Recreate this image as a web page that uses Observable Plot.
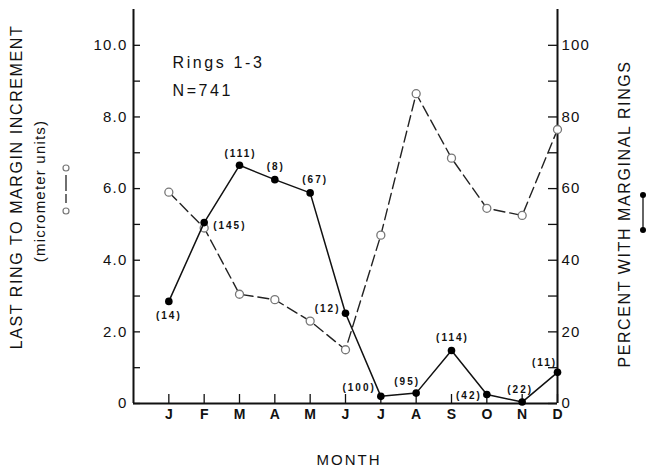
<!DOCTYPE html>
<html><head><meta charset="utf-8">
<script src="https://cdn.jsdelivr.net/npm/d3@7"></script>
<script src="https://cdn.jsdelivr.net/npm/@observablehq/plot@0.6"></script>
<style>
html,body{margin:0;padding:0;background:#fff;}
#chart svg{display:block;}
</style></head><body><div id="chart"></div>
<script>
// ---- data ----
const months = ["J","F","M","A","M","J","J","A","S","O","N","D"];
const increment = [5.9, 4.9, 3.05, 2.9, 2.3, 1.5, 4.7, 8.65, 6.85, 5.45, 5.25, 7.65]; // micrometer units (left)
const percentMarginal = [28.5, 50.5, 66.5, 62.5, 58.8, 25.2, 2.0, 2.9, 14.8, 2.5, 0.4, 8.7]; // % (right)
const sampleSize = [14, 145, 111, 8, 67, 12, 100, 95, 114, 42, 22, 11];
const leftTicks = [0, 2, 4, 6, 8, 10];
const minorTicks = [1, 3, 5, 7, 9];
const rightTicks = [0, 20, 40, 60, 80, 100];
const notes = ["Rings 1-3", "N=741"];

// ---- layout / style ----
const W = 647, H = 469;
const mL = 133, mR = 90, mT = 9, mB = 66;
const plotW = W - mL - mR, plotH = H - mT - mB;
const pctScale = 10; // right axis 100 == left axis 10.0
const FONT = "'Liberation Sans', Arial, Helvetica, sans-serif";
const labelPlace = [
  {dx: 0, dy: 14, a: "middle"},
  {dx: 9, dy: 3, a: "start"},
  {dx: 1, dy: -12, a: "middle"},
  {dx: 1, dy: -13, a: "middle"},
  {dx: 5, dy: -13, a: "middle"},
  {dx: -5, dy: -4, a: "end"},
  {dx: -5, dy: -9, a: "end"},
  {dx: -9, dy: -11, a: "middle"},
  {dx: 1, dy: -13, a: "middle"},
  {dx: -5, dy: 1, a: "end"},
  {dx: -2, dy: -12, a: "middle"},
  {dx: -13, dy: -10, a: "middle"}
];
const notePlace = [{dx: 39, dy: 53}, {dx: 39, dy: 81}];

const idx = d3.range(months.length);
const xDomain = [-1, months.length - 1];
const allTicks = leftTicks.concat(minorTicks);

const labelMarks = idx.map(i => Plot.text([i], {
  x: d => d, y: d => percentMarginal[d] / pctScale,
  text: d => `(${sampleSize[d]})`,
  dx: labelPlace[i].dx, dy: labelPlace[i].dy, textAnchor: labelPlace[i].a,
  fontSize: 10, fontWeight: "bold", fill: "#111"
}));
const noteMarks = notes.map((t, i) => Plot.text([t], {
  frameAnchor: "top-left", text: d => d, dx: notePlace[i].dx, dy: notePlace[i].dy,
  fontSize: 16, textAnchor: "start", lineAnchor: "middle", fill: "#111"
}));

const chart = Plot.plot({
  width: W, height: H,
  marginLeft: mL, marginRight: mR, marginTop: mT, marginBottom: mB,
  style: {fontFamily: FONT, color: "#111", background: "#fff"},
  x: {domain: xDomain, axis: null},
  y: {domain: [0, 11], axis: null},
  marks: [
    // axis frame lines
    Plot.ruleX(xDomain, {stroke: "#111", strokeWidth: 2}),
    Plot.ruleY([0], {stroke: "#111", strokeWidth: 2}),
    // inward ticks
    Plot.tickY(allTicks, {y: d => d, insetRight: plotW - 7, stroke: "#111", strokeWidth: 1.3}),
    Plot.tickY(allTicks, {y: d => d, insetLeft: plotW - 9, stroke: "#111", strokeWidth: 1.3}),
    Plot.tickX(idx, {x: d => d, insetTop: plotH - 9, stroke: "#111", strokeWidth: 1.3}),
    // axes labels
    Plot.axisY({anchor: "left", ticks: leftTicks, tickSize: 0, tickPadding: 6, fontSize: 15,
      tickFormat: d => d === 0 ? "0" : d.toFixed(1)}),
    Plot.axisY({anchor: "right", ticks: leftTicks, tickSize: 0, tickPadding: 4, fontSize: 15,
      tickFormat: d => String(rightTicks[leftTicks.indexOf(d)])}),
    Plot.axisX({ticks: idx, tickSize: 0, tickPadding: 6, fontSize: 14, fontWeight: "bold",
      tickFormat: i => months[i]}),
    // increment series (open circles, dashed)
    Plot.line(idx, {x: d => d, y: d => increment[d], stroke: "#222", strokeWidth: 1.4, strokeDasharray: "11,5"}),
    Plot.dot(idx, {x: d => d, y: d => increment[d], r: 4, fill: "#fff", stroke: "#777", strokeWidth: 1.3}),
    // percent series (filled circles, solid)
    Plot.line(idx, {x: d => d, y: d => percentMarginal[d] / pctScale, stroke: "#111", strokeWidth: 1.5}),
    Plot.dot(idx, {x: d => d, y: d => percentMarginal[d] / pctScale, r: 3.8, fill: "#000"}),
    ...labelMarks,
    ...noteMarks
  ]
});
document.getElementById("chart").appendChild(chart);
const svg = d3.select(chart);

// letter spacing tweaks (typewriter-like spacing of the original)
svg.selectAll("text").each(function() {
  const t = this.textContent;
  const el = d3.select(this);
  if (/^\(\d+\)$/.test(t)) el.attr("letter-spacing", 2);
  else if (notes.includes(t)) el.attr("letter-spacing", 2.6);
  else if (/^\d+(\.\d)?$/.test(t)) el.attr("letter-spacing", 1.2);
});

// axis titles
function vtext(x, y, txt, size, spacing, weight) {
  svg.append("text").attr("transform", `translate(${x},${y}) rotate(-90)`)
    .attr("text-anchor", "middle").attr("font-family", FONT).attr("font-size", size)
    .attr("letter-spacing", spacing).attr("fill", "#111").attr("font-weight", weight || "normal")
    .attr("dominant-baseline", "middle").text(txt);
}
vtext(18, 187, "LAST RING TO MARGIN INCREMENT", 16, 1.6);
vtext(41, 191, "(micrometer units)", 15, 1.2);
vtext(626, 214, "PERCENT WITH MARGINAL RINGS", 16, 1.6);
svg.append("text").attr("x", 349).attr("y", 465).attr("text-anchor", "middle")
  .attr("font-family", FONT).attr("font-size", 15).attr("letter-spacing", 2).attr("fill", "#111")
  .text("MONTH");

// legend glyphs
const lg = svg.append("g");
lg.append("line").attr("x1", 66).attr("x2", 66).attr("y1", 175).attr("y2", 191).attr("stroke", "#222").attr("stroke-width", 1.3);
lg.append("line").attr("x1", 66).attr("x2", 66).attr("y1", 194).attr("y2", 203).attr("stroke", "#222").attr("stroke-width", 1.3);
lg.append("circle").attr("cx", 66).attr("cy", 168).attr("r", 3).attr("fill", "#fff").attr("stroke", "#777").attr("stroke-width", 1.2);
lg.append("circle").attr("cx", 66).attr("cy", 211).attr("r", 3).attr("fill", "#fff").attr("stroke", "#777").attr("stroke-width", 1.2);
lg.append("line").attr("x1", 643).attr("x2", 643).attr("y1", 196).attr("y2", 229).attr("stroke", "#111").attr("stroke-width", 1.3);
lg.append("circle").attr("cx", 643).attr("cy", 195).attr("r", 3).attr("fill", "#000");
lg.append("circle").attr("cx", 643).attr("cy", 230).attr("r", 3).attr("fill", "#000");
</script></body></html>
